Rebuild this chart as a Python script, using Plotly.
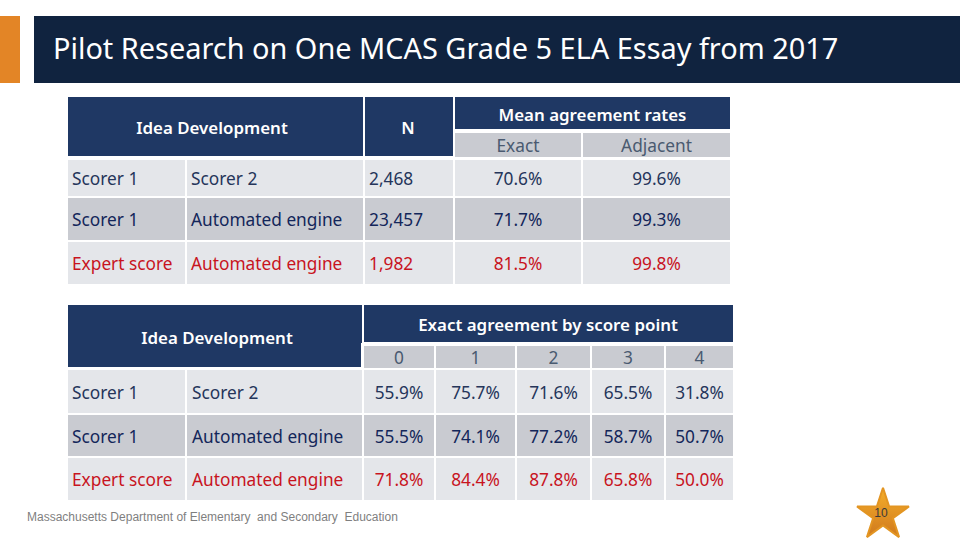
import plotly.graph_objects as go

# ---------- content ----------
title = "Pilot Research on One MCAS Grade 5 ELA Essay from 2017"
footer = "Massachusetts Department of Elementary  and Secondary  Education"
page_number = "10"

group_header = "Idea Development"
n_header = "N"
mean_header = "Mean agreement rates"
mean_subheaders = ["Exact", "Adjacent"]
point_header = "Exact agreement by score point"
point_subheaders = ["0", "1", "2", "3", "4"]

first_scorer = ["Scorer 1", "Scorer 1", "Expert score"]
second_scorer = ["Scorer 2", "Automated engine", "Automated engine"]
n_values = ["2,468", "23,457", "1,982"]
exact_rates = ["70.6%", "71.7%", "81.5%"]
adjacent_rates = ["99.6%", "99.3%", "99.8%"]
point0 = ["55.9%", "55.5%", "71.8%"]
point1 = ["75.7%", "74.1%", "84.4%"]
point2 = ["71.6%", "77.2%", "87.8%"]
point3 = ["65.5%", "58.7%", "65.8%"]
point4 = ["31.8%", "50.7%", "50.0%"]

# ---------- layout geometry (pixels) ----------
T1_COLS = [(68, 185), (187, 363), (365, 453), (455, 581), (583, 730)]
T1_ROWS = [(160, 196), (198, 240), (242, 284)]
T2_COLS = [(68, 185), (187, 362), (364, 434), (436, 515), (517, 590), (592, 664), (666, 733)]
T2_ROWS = [(370, 413), (415, 456), (458, 500)]

NAVY, BAR = "#1F3864", "#10233F"
LIGHT, DARK = "#E4E6EA", "#C9CBD1"
ORANGE = "#E38526"
ROW_FILL = [LIGHT, DARK, LIGHT]
ROW_TEXT = ["#25355A", "#13265A", "#C8141E"]
SUB_TEXT = "#4A5A70"
BODY_FONT = "Noto Sans"
BODY_SIZE = 17.3
HEAD_SIZE = 16.9
TEXT_DY = 3  # font baseline correction, pixels

fig = go.Figure()
shapes = []


def rect(x0, x1, y0, y1, fill):
    shapes.append(dict(type="rect", xref="x", yref="y", x0=x0, x1=x1, y0=y0, y1=y1,
                       fillcolor=fill, line_width=0, layer="below"))


def text(xs, ys, labels, color, size=BODY_SIZE, family=BODY_FONT, pos="middle center", weight=None):
    font = dict(family=family, size=size, color=color)
    if weight:
        font["weight"] = weight
    fig.add_trace(go.Scatter(x=xs, y=[y + TEXT_DY for y in ys], text=labels, mode="text",
                             textposition=pos, textfont=font, hoverinfo="skip", showlegend=False))


def mid(edge):
    return (edge[0] + edge[1]) / 2


# page furniture
rect(0, 20, 16, 83, ORANGE)
rect(34, 960, 16, 83, BAR)
text([53], [49], [title], "#FFFFFF", size=28.9, pos="middle right")

# table 1 headers
rect(68, 363, 97, 156, NAVY)
rect(365, 453, 97, 156, NAVY)
rect(455, 730, 97, 129, NAVY)
rect(*T1_COLS[3], 133, 157, DARK)
rect(*T1_COLS[4], 133, 157, DARK)
text([212], [127], [group_header], "#FFFFFF", size=HEAD_SIZE, weight=600)
text([408], [127], [n_header], "#FFFFFF", size=HEAD_SIZE, weight=600)
text([592.5], [114], [mean_header], "#FFFFFF", size=HEAD_SIZE, weight=600)
text([mid(T1_COLS[3]), mid(T1_COLS[4])], [145, 145], mean_subheaders, SUB_TEXT)

# table 2 headers
rect(68, 361, 305, 367, NAVY)
rect(361, 362, 305, 343, NAVY)
rect(364, 733, 305, 342, NAVY)
for c in T2_COLS[2:]:
    rect(*c, 346, 368, DARK)
text([217], [337], [group_header], "#FFFFFF", size=HEAD_SIZE, weight=600)
text([548], [324], [point_header], "#FFFFFF", size=HEAD_SIZE, weight=600)
text([mid(c) for c in T2_COLS[2:]], [357] * 5, point_subheaders, SUB_TEXT)

# table bodies
for i in range(3):
    for c in T1_COLS:
        rect(*c, *T1_ROWS[i], ROW_FILL[i])
    for c in T2_COLS:
        rect(*c, *T2_ROWS[i], ROW_FILL[i])

    y1 = mid(T1_ROWS[i])
    text([T1_COLS[0][0] + 4, T1_COLS[1][0] + 4, T1_COLS[2][0] + 4], [y1] * 3,
         [first_scorer[i], second_scorer[i], n_values[i]], ROW_TEXT[i], pos="middle right")
    text([mid(T1_COLS[3]), mid(T1_COLS[4])], [y1] * 2,
         [exact_rates[i], adjacent_rates[i]], ROW_TEXT[i])

    y2 = mid(T2_ROWS[i])
    text([T2_COLS[0][0] + 4, T2_COLS[1][0] + 5], [y2] * 2,
         [first_scorer[i], second_scorer[i]], ROW_TEXT[i], pos="middle right")
    text([mid(c) for c in T2_COLS[2:]], [y2] * 5,
         [point0[i], point1[i], point2[i], point3[i], point4[i]], ROW_TEXT[i])

# footer
text([27], [515], [footer], "#7F7F7F", size=12, family="Liberation Sans", pos="middle right")

# page-number star
fig.add_trace(go.Scatter(
    x=[883], y=[515], mode="markers", cliponaxis=False,
    marker=dict(symbol="star", size=39, color="#F6B02C",
                line=dict(width=2, color="#E39522"),
                gradient=dict(type="vertical", color="#CF781D")),
    hoverinfo="skip", showlegend=False))
text([881], [511], [page_number], "#3A3A3A", size=12, family="Liberation Sans")

fig.update_layout(
    width=960, height=540, margin=dict(l=0, r=0, t=0, b=0, pad=0),
    paper_bgcolor="#FFFFFF", plot_bgcolor="#FFFFFF", shapes=shapes, showlegend=False,
    xaxis=dict(range=[0, 960], visible=False, fixedrange=True),
    yaxis=dict(range=[540, 0], visible=False, fixedrange=True),
)
fig.write_html("out.html", config={"displayModeBar": False},
               post_script="document.body.style.margin='0';document.documentElement.style.overflow='hidden';")
